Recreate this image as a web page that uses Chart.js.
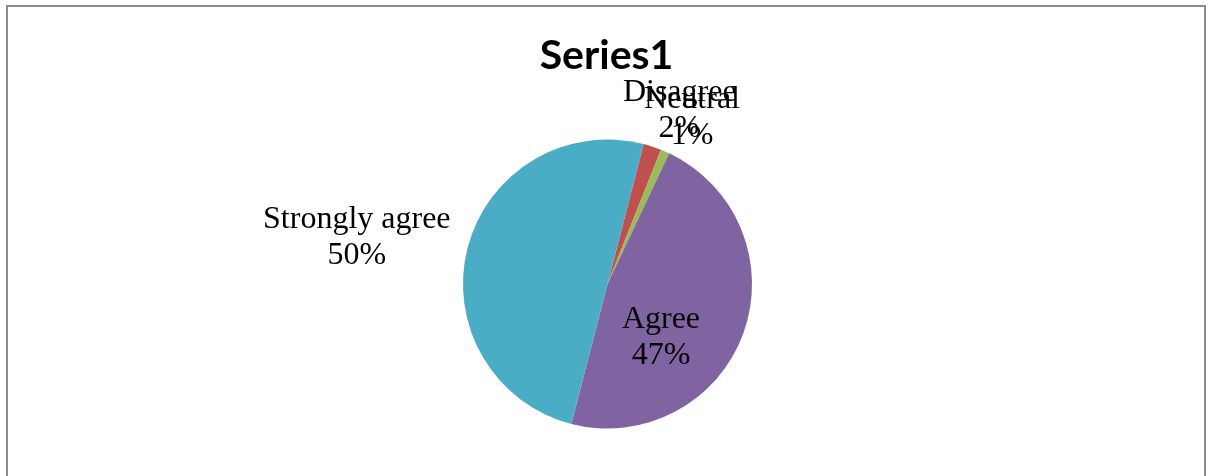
<!DOCTYPE html>
<html lang="en">

<head>
    <meta charset="UTF-8" />
    <title>Series1</title>
    <script src="https://cdn.jsdelivr.net/npm/chart.js"></script>
    <style>
        body {
            margin: 0;
            background: #fff;
        }

        canvas {
            display: block;
        }
    </style>
</head>

<body>
    <canvas id="pieChart" width="1209" height="476"></canvas>

    <script>
        // data
        const categories = ['Disagree', 'Neutral', 'Agree', 'Strongly agree'];
        const percents = [2, 1, 47, 50];
        const sliceColors = ['#C0504D', '#9BBB59', '#8064A2', '#4BACC6'];
        const chartTitle = 'Series1';

        // where each label sits, relative to the pie centre, in units of radius
        const labelOffsets = [[0.50, -1.20], [0.585, -1.155], [0.37, 0.37], [-1.735, -0.32]];

        // draws frame, title and the excel-like data labels
        const excelLabels = {
            id: 'excelLabels',
            beforeDraw(chart) {
                const c = chart.ctx;
                c.save();
                c.fillStyle = '#fff';
                c.fillRect(0, 0, chart.width, chart.height);
                c.strokeStyle = '#8c8c8c';
                c.lineWidth = 2;
                c.beginPath();
                c.moveTo(7, chart.height + 5);
                c.lineTo(7, 6);
                c.lineTo(1205, 6);
                c.lineTo(1205, chart.height + 5);
                c.stroke();
                c.restore();
            },
            afterDraw(chart) {
                const c = chart.ctx;
                const arcs = chart.getDatasetMeta(0).data;
                const cx = arcs[0].x, cy = arcs[0].y, r = arcs[0].outerRadius;
                c.save();
                c.fillStyle = '#000';
                c.textAlign = 'center';
                c.textBaseline = 'middle';
                c.font = 'bold 41px Lato';
                c.fillText(chartTitle, cx - 1, 56);
                c.font = '32px "Liberation Serif"';
                categories.forEach((name, i) => {
                    const x = cx + labelOffsets[i][0] * r;
                    const y = cy + labelOffsets[i][1] * r;
                    c.fillText(name, x, y - 18);
                    c.fillText(percents[i] + '%', x, y + 18);
                });
                c.restore();
            }
        };

        new Chart(document.getElementById('pieChart'), {
            type: 'pie',
            data: {
                labels: categories,
                datasets: [{
                    data: percents,
                    backgroundColor: sliceColors,
                    borderWidth: 0
                }]
            },
            options: {
                responsive: false,
                animation: false,
                rotation: 14.5,
                layout: { padding: { top: 139.5, bottom: 47.5, left: 6, right: 0 } },
                plugins: {
                    legend: { display: false },
                    tooltip: { enabled: false },
                    title: { display: false }
                }
            },
            plugins: [excelLabels]
        });
    </script>
</body>

</html>
